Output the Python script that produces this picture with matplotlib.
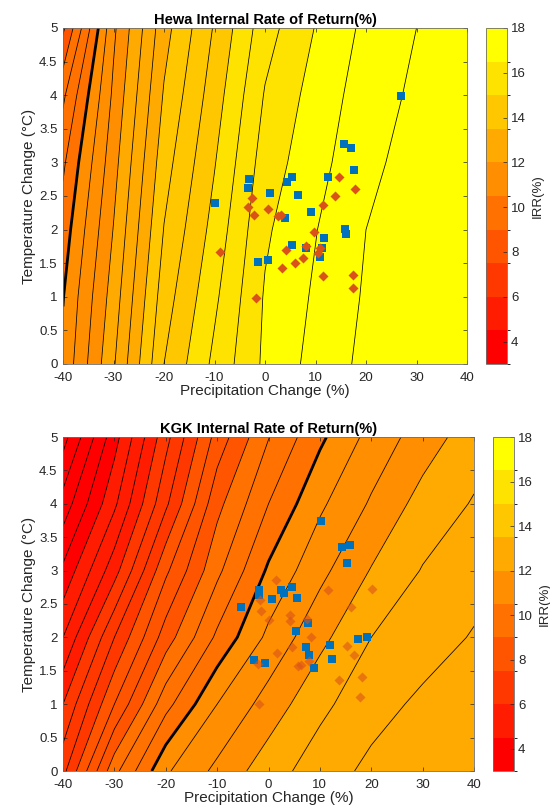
import numpy as np
import matplotlib
matplotlib.use('Agg')
import matplotlib.pyplot as plt
from matplotlib.colors import ListedColormap, BoundaryNorm
import matplotlib.cm as cm

plt.rcParams['font.family'] = ['Liberation Sans', 'DejaVu Sans']
plt.rcParams['axes.unicode_minus'] = False

# ---------------- data ----------------
precip = [-40, -30, -20, -10, 0, 10, 20, 30, 40]
temp = [0, 1, 2, 3, 4, 5]

hewa_irr = [
    [10.62, 12.44, 14.50, 15.62, 16.60, 17.17, 17.63, 17.85, 17.95],
    [10.48, 12.23, 14.26, 15.40, 16.55, 17.07, 17.56, 17.80, 17.92],
    [10.23, 12.02, 14.02, 15.18, 16.42, 16.98, 17.50, 17.76, 17.90],
    [9.91, 11.81, 13.79, 14.97, 16.24, 16.82, 17.37, 17.70, 17.87],
    [9.40, 11.60, 13.55, 14.76, 16.04, 16.70, 17.24, 17.60, 17.83],
    [8.40, 11.40, 13.31, 14.55, 15.79, 16.52, 17.12, 17.50, 17.80],
]

kgk_irr = [
    [6.85, 9.35, 10.93, 11.62, 12.28, 12.75, 13.12, 13.30, 13.45],
    [6.00, 8.00, 9.83, 11.00, 11.71, 12.38, 12.81, 13.10, 13.30],
    [5.00, 7.00, 8.75, 10.10, 11.12, 11.86, 12.50, 12.77, 13.04],
    [4.10, 5.80, 7.90, 9.38, 10.58, 11.36, 12.03, 12.53, 12.80],
    [3.20, 4.90, 6.90, 8.85, 10.00, 10.91, 11.56, 12.19, 12.54],
    [2.30, 4.30, 6.33, 8.20, 9.48, 10.40, 11.17, 11.74, 12.27],
]

hewa_sq_x = [-9.9, -3.1, -3.3, 1.0, 5.4, 4.4, 6.6, 4.0, 9.1, 15.7, 17.0, 17.7,
             12.4, 15.8, 16.0, 11.7, 5.4, 8.1, 11.3, 10.8, -1.4, 0.5, 26.9]
hewa_sq_y = [2.39, 2.75, 2.62, 2.54, 2.79, 2.71, 2.52, 2.17, 2.26, 3.28, 3.22, 2.88,
             2.79, 2.01, 1.93, 1.88, 1.77, 1.72, 1.72, 1.59, 1.52, 1.55, 3.99]
hewa_dm_x = [-2.6, -3.4, -2.1, 0.6, 2.6, 3.1, 14.6, 13.8, 11.5, 17.9, 9.7, 4.2,
             8.1, 10.9, 10.4, 7.5, 5.9, 3.3, 11.5, 17.5, 17.4, -1.7, -9.0]
hewa_dm_y = [2.47, 2.34, 2.21, 2.30, 2.20, 2.21, 2.79, 2.50, 2.37, 2.60, 1.96, 1.70,
             1.75, 1.72, 1.65, 1.57, 1.50, 1.43, 1.31, 1.32, 1.13, 0.98, 1.66]

kgk_sq_x = [10.3, 14.3, 15.8, 15.2, -5.4, -1.9, -1.9, 0.7, 2.4, 3.1, 4.6, 5.5,
            7.6, 5.4, 7.3, 7.9, 8.8, 12.0, 12.4, 17.5, 19.1, -2.8, -0.7]
kgk_sq_y = [3.75, 3.36, 3.39, 3.11, 2.46, 2.71, 2.63, 2.57, 2.71, 2.67, 2.76, 2.59,
            2.22, 2.09, 1.86, 1.73, 1.54, 1.88, 1.68, 1.98, 2.01, 1.66, 1.62]
kgk_dm_x = [1.5, -1.6, -1.4, 0.1, 4.1, 4.1, 7.5, 8.3, 4.6, 1.6, 11.5, 20.1,
            16.1, 15.3, 16.7, 6.4, 5.7, 7.8, 13.7, 18.2, 17.9, -1.9, -2.0]
kgk_dm_y = [2.86, 2.56, 2.40, 2.26, 2.33, 2.25, 2.28, 2.01, 1.85, 1.76, 2.71, 2.72,
            2.45, 1.87, 1.73, 1.59, 1.57, 1.64, 1.36, 1.40, 1.11, 1.00, 1.60]

titles = ['Hewa Internal Rate of Return(%)', 'KGK Internal Rate of Return(%)']
ytick_labels = ['0', '0.5', '1', '1.5', '2', '2.5', '3', '3.5', '4', '4.5', '5']
cbar_ticks = [4, 6, 8, 10, 12, 14, 16, 18]

# ---------------- style ----------------
W, H = 550, 811
fig = plt.figure(figsize=(W / 100, H / 100), dpi=100)

base = plt.get_cmap('autumn')
cols = base(np.linspace(0, 1, 10))
cmap = ListedColormap(cols)
cmap.set_under(cols[0])
cmap.set_over(cols[-1])
bounds = np.linspace(3, 18, 11)
norm = BoundaryNorm(bounds, cmap.N)
levels = np.arange(2.0, 18.01, 0.5)

tc = '#262626'


def px_rect(x0, x1, y0, y1):
    return [x0 / W, 1 - y1 / H, (x1 - x0) / W, (y1 - y0) / H]


layouts = [
    (px_rect(63, 467, 28, 364), px_rect(486, 507, 28, 364)),
    (px_rect(63, 474, 437, 771), px_rect(493, 514, 437, 771)),
]
fields = [hewa_irr, kgk_irr]
points = [(hewa_sq_x, hewa_sq_y, hewa_dm_x, hewa_dm_y, 1.0),
          (kgk_sq_x, kgk_sq_y, kgk_dm_x, kgk_dm_y, 0.6)]

X, Y = np.meshgrid(precip, temp)

for i in range(2):
    ax = fig.add_axes(layouts[i][0])
    cax = fig.add_axes(layouts[i][1])
    Z = np.array(fields[i])
    ax.contourf(X, Y, Z, levels=levels, cmap=cmap, norm=norm)
    ax.contour(X, Y, Z, levels=levels, colors='k', linewidths=0.55)
    ax.contour(X, Y, Z, levels=[10.5], colors='k', linewidths=2.0)
    sx, sy, dx, dy, alpha = points[i]
    ax.scatter(sx, sy, marker='s', s=27, c='#0072BD', linewidths=0, zorder=5)
    ax.scatter(dx, dy, marker='D', s=26, c='#D95319', linewidths=0,
               alpha=alpha, zorder=5)
    ax.set_xlim(-40, 40)
    ax.set_ylim(0, 5)
    ax.set_xticks(np.arange(-40, 41, 10))
    ax.set_yticks(np.arange(0, 5.01, 0.5))
    ax.set_yticklabels(ytick_labels)
    ax.tick_params(direction='in', top=True, right=True, length=3, width=0.5,
                   labelsize=9.5, colors=tc)
    ax.tick_params(axis='x', pad=6)
    ax.tick_params(axis='y', pad=4)
    for sp in ax.spines.values():
        sp.set_color('#6e6e6e')
        sp.set_linewidth(0.6)
    ax.set_xlabel('Precipitation Change (%)', fontsize=11, color=tc, labelpad=0)
    ax.set_ylabel('Temperature Change (°C)', fontsize=11, color=tc, labelpad=2)
    ax.set_title(titles[i], fontsize=10.5, fontweight='bold', color='k', pad=3)

    sm = cm.ScalarMappable(norm=norm, cmap=cmap)
    cb = fig.colorbar(sm, cax=cax, ticks=cbar_ticks)
    cb.outline.set_edgecolor('#6e6e6e')
    cb.outline.set_linewidth(0.6)
    cax.tick_params(direction='in', length=3, width=0.5, labelsize=9.5,
                    colors=tc, pad=3)
    cb.set_label('IRR(%)', fontsize=9.5, color=tc, labelpad=4)

fig.savefig('out.png', dpi=100)
